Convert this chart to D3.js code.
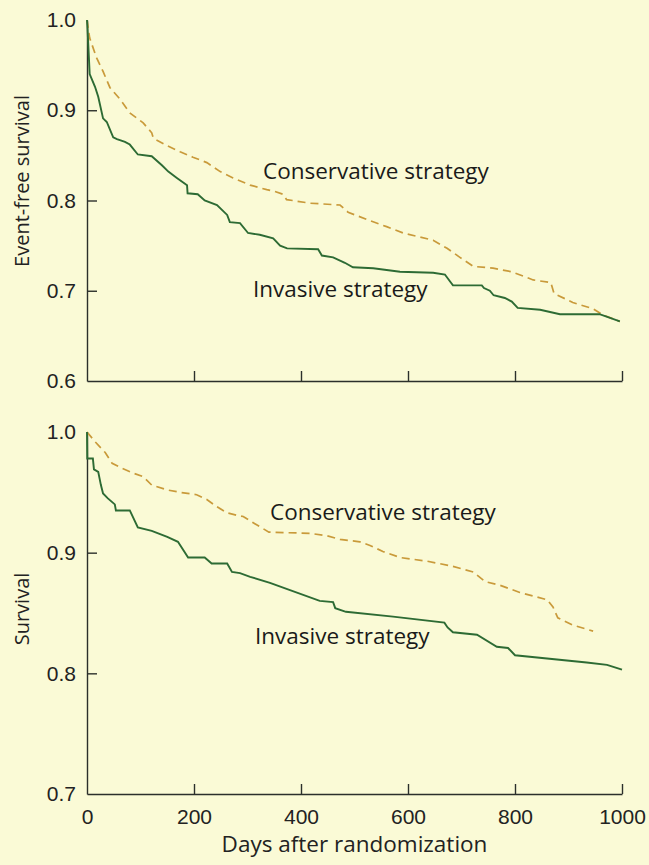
<!DOCTYPE html>
<html>
<head>
<meta charset="utf-8">
<script src="https://cdn.jsdelivr.net/npm/d3@7"></script>
<style>
  body { margin: 0; background: #fafad6; }
  svg { display: block; font-family: "Open Sans", "Noto Sans", sans-serif; }
  .axis path, .axis line { stroke: #2b2f2b; stroke-width: 1.4; }
  .axis text { font-size: 21px; fill: #222; }
</style>
</head>
<body>
<svg></svg>
<script>
// x ticks (days) and y ticks for the two panels
const dayTicks = [0, 200, 400, 600, 800, 1000];
const topTicks = [0.6, 0.7, 0.8, 0.9, 1.0];
const bottomTicks = [0.7, 0.8, 0.9, 1.0];

// [day, value]
const efInvasive = [[0,1.0],[1,0.99],[5,0.94],[15,0.926],[21,0.915],[30,0.891],[37,0.887],[49,0.870],[56,0.868],[71,0.865],[80,0.862],[95,0.851],[121,0.849],[140,0.839],[152,0.832],[168,0.825],[187,0.817],[188,0.808],[207,0.807],[220,0.800],[243,0.795],[262,0.784],[267,0.776],[286,0.775],[301,0.764],[323,0.762],[348,0.758],[361,0.750],[374,0.747],[432,0.746],[439,0.739],[460,0.737],[482,0.731],[497,0.726],[535,0.725],[585,0.721],[647,0.720],[669,0.718],[679,0.710],[684,0.706],[738,0.706],[742,0.703],[753,0.700],[760,0.695],[781,0.692],[794,0.688],[805,0.681],[847,0.679],[884,0.674],[958,0.674],[996,0.666]];
const efConservative = [[0,1.0],[5,0.98],[18,0.958],[30,0.943],[43,0.925],[62,0.912],[80,0.897],[105,0.886],[121,0.875],[124,0.869],[149,0.861],[174,0.854],[198,0.848],[224,0.842],[249,0.832],[273,0.825],[305,0.817],[336,0.812],[351,0.810],[366,0.807],[373,0.801],[417,0.797],[473,0.795],[488,0.787],[523,0.779],[560,0.771],[591,0.764],[647,0.756],[673,0.747],[697,0.737],[722,0.727],[759,0.725],[794,0.721],[834,0.712],[867,0.709],[873,0.697],[908,0.687],[946,0.680],[965,0.673],[996,0.666]];
const survInvasive = [[0,1.0],[0.5,0.978],[11,0.978],[13,0.969],[21,0.967],[26,0.956],[30,0.949],[39,0.945],[52,0.940],[54,0.935],[80,0.935],[95,0.921],[121,0.918],[150,0.913],[170,0.909],[189,0.896],[220,0.896],[233,0.891],[262,0.891],[271,0.884],[286,0.883],[305,0.880],[342,0.875],[435,0.860],[460,0.859],[464,0.854],[484,0.851],[572,0.847],[668,0.842],[674,0.838],[684,0.834],[729,0.832],[766,0.822],[787,0.821],[800,0.815],[934,0.809],[972,0.807],[1000,0.803]];
const survConservative = [[0,1.0],[15,0.992],[34,0.983],[47,0.974],[65,0.970],[86,0.966],[105,0.963],[121,0.956],[150,0.952],[174,0.950],[205,0.948],[224,0.944],[243,0.938],[262,0.933],[280,0.931],[292,0.930],[310,0.925],[340,0.917],[417,0.916],[449,0.914],[473,0.911],[510,0.909],[529,0.906],[553,0.901],[585,0.896],[635,0.893],[681,0.889],[722,0.884],[744,0.876],[772,0.873],[809,0.867],[860,0.861],[871,0.855],[880,0.846],[908,0.840],[946,0.835]];

const w = 649, h = 865;
const green = "#2d6b34", gold = "#c99a3a";

const svg = d3.select("svg").attr("width", w).attr("height", h);

const x = d3.scaleLinear().domain([0, 1000]).range([87, 622]);
const yTop = d3.scaleLinear().domain([0.6, 1.0]).range([381, 20]);
const yBot = d3.scaleLinear().domain([0.7, 1.0]).range([794, 432]);

function panel(y, ticks, inv, cons, showX, invLabel, consLabel, yTitle) {
  const g = svg.append("g");
  const y0 = y.range()[0];

  // y axis, ticks pointing inwards
  const ya = g.append("g").attr("class", "axis")
    .attr("transform", `translate(${x(0)},0)`)
    .call(d3.axisLeft(y).tickValues(ticks).tickFormat(d3.format(".1f"))
      .tickSizeInner(-10).tickSizeOuter(0).tickPadding(11));
  ya.selectAll(".tick line").filter(d => d === ticks[0] || d === 1.0).remove();

  // x axis
  const xa = g.append("g").attr("class", "axis")
    .attr("transform", `translate(0,${y0})`)
    .call(d3.axisBottom(x).tickValues(dayTicks).tickFormat(d3.format("d"))
      .tickSizeInner(-10).tickSizeOuter(0).tickPadding(15));
  xa.selectAll(".tick line").filter(d => d === 0).remove();
  if (!showX) xa.selectAll(".tick text").remove();

  const line = d3.line().x(d => x(d[0])).y(d => y(d[1]));

  g.append("path").datum(cons)
    .attr("d", line).attr("fill", "none")
    .attr("stroke", gold).attr("stroke-width", 1.7)
    .attr("stroke-dasharray", "8,5");

  g.append("path").datum(inv)
    .attr("d", line).attr("fill", "none")
    .attr("stroke", green).attr("stroke-width", 1.9);

  g.append("text").attr("x", consLabel[0]).attr("y", consLabel[1])
    .style("font-size", "22.5px").attr("fill", "#1a1a1a")
    .text("Conservative strategy");
  g.append("text").attr("x", invLabel[0]).attr("y", invLabel[1])
    .style("font-size", "22.5px").attr("fill", "#1a1a1a")
    .text("Invasive strategy");

  g.append("text")
    .attr("transform", `translate(${yTitle[0]},${yTitle[1]}) rotate(-90)`)
    .attr("text-anchor", "middle")
    .style("font-size", "20px").attr("fill", "#222")
    .text(yTitle[2]);
}

panel(yTop, topTicks, efInvasive, efConservative, false,
  [253, 297], [263, 179], [29, 181, "Event-free survival"]);
panel(yBot, bottomTicks, survInvasive, survConservative, true,
  [255, 644], [270, 520], [29, 609, "Survival"]);

// x axis title
svg.append("text")
  .attr("x", (x.range()[0] + x.range()[1]) / 2).attr("y", 852)
  .attr("text-anchor", "middle")
  .style("font-size", "22.5px").attr("fill", "#222")
  .text("Days after randomization");
</script>
</body>
</html>
